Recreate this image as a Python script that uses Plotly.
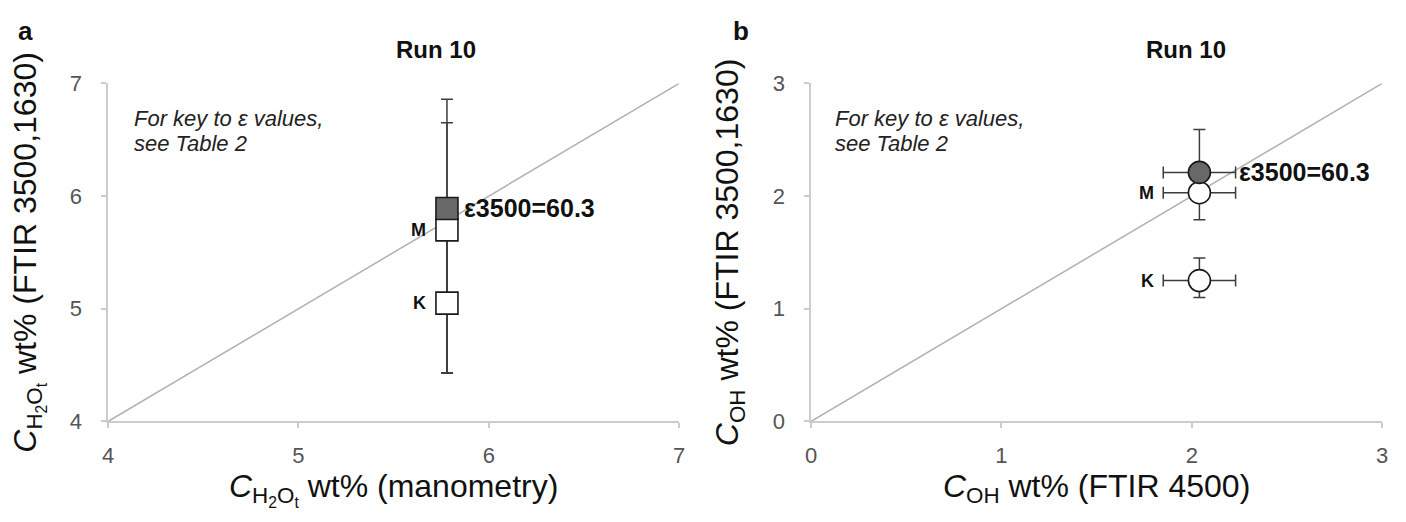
import plotly.graph_objects as go

W, H = 1406, 522
FONT = "Liberation Sans, Arial, sans-serif"

# ---- data panel a (C_H2Ot) ----
a_labels = ["ε3500=60.3", "M", "K"]
a_x = [5.78, 5.78, 5.78]
a_y = [5.89, 5.70, 5.05]
a_err_up = [0.97, 0.95, 0.63]
a_err_dn = [1.46, 1.27, 0.62]
a_fill = ["#686868", "white", "white"]

# ---- data panel b (C_OH) ----
b_labels = ["ε3500=60.3", "M", "K"]
b_x = [2.04, 2.04, 2.04]
b_y = [2.21, 2.03, 1.25]
b_err_up = [0.38, 0.24, 0.20]
b_err_dn = [0.10, 0.24, 0.15]
b_xerr = [0.19, 0.19, 0.19]
b_fill = ["#686868", "white", "white"]

a_ticks = [4, 5, 6, 7]
b_ticks = [0, 1, 2, 3]

fig = go.Figure()

# 1:1 lines
fig.add_trace(go.Scatter(x=[a_ticks[0], a_ticks[-1]], y=[a_ticks[0], a_ticks[-1]], mode="lines",
                         line=dict(color="#b0b0b0", width=1.5), xaxis="x", yaxis="y", hoverinfo="skip"))
fig.add_trace(go.Scatter(x=[b_ticks[0], b_ticks[-1]], y=[b_ticks[0], b_ticks[-1]], mode="lines",
                         line=dict(color="#b0b0b0", width=1.5), xaxis="x2", yaxis="y2", hoverinfo="skip"))

ebcol = "#3c3c3c"
# error bars (drawn under markers)
fig.add_trace(go.Scatter(x=a_x, y=a_y, mode="markers", marker=dict(size=1, color="rgba(0,0,0,0)"),
                         error_y=dict(type="data", symmetric=False, array=a_err_up, arrayminus=a_err_dn,
                                      color=ebcol, thickness=1.5, width=6),
                         xaxis="x", yaxis="y"))
fig.add_trace(go.Scatter(x=b_x, y=b_y, mode="markers", marker=dict(size=1, color="rgba(0,0,0,0)"),
                         error_y=dict(type="data", symmetric=False, array=b_err_up, arrayminus=b_err_dn,
                                      color=ebcol, thickness=1.5, width=6),
                         error_x=dict(type="data", array=b_xerr, color=ebcol, thickness=1.5, width=6),
                         xaxis="x2", yaxis="y2"))

# markers (reverse order so filled is on top)
fig.add_trace(go.Scatter(x=a_x[::-1], y=a_y[::-1], mode="markers",
                         marker=dict(symbol="square", size=22, color=a_fill[::-1],
                                     line=dict(color="#1a1a1a", width=1.6)),
                         xaxis="x", yaxis="y"))
fig.add_trace(go.Scatter(x=b_x[::-1], y=b_y[::-1], mode="markers",
                         marker=dict(symbol="circle", size=22, color=b_fill[::-1],
                                     line=dict(color="#1a1a1a", width=1.6)),
                         xaxis="x2", yaxis="y2"))

ann = []
# point labels
for i, lab in enumerate(a_labels):
    if i == 0:
        ann.append(dict(x=a_x[i], y=a_y[i], xref="x", yref="y", text="<b>%s</b>" % lab, showarrow=False,
                        xanchor="left", xshift=15, font=dict(size=25, color="#111", family=FONT)))
    else:
        ann.append(dict(x=a_x[i], y=a_y[i], xref="x", yref="y", text="<b>%s</b>" % lab, showarrow=False,
                        xanchor="right", xshift=-19, font=dict(size=18, color="#111", family=FONT)))
for i, lab in enumerate(b_labels):
    if i == 0:
        ann.append(dict(x=b_x[i], y=b_y[i], xref="x2", yref="y2", text="<b>%s</b>" % lab, showarrow=False,
                        xanchor="left", xshift=38, font=dict(size=25, color="#111", family=FONT)))
    else:
        ann.append(dict(x=b_x[i], y=b_y[i], xref="x2", yref="y2", text="<b>%s</b>" % lab, showarrow=False,
                        xanchor="right", xshift=-43, font=dict(size=18, color="#111", family=FONT)))

def px(x):
    return x / W

def py(y):
    return 1 - y / H

# panel letters, titles, notes
ann.append(dict(x=px(10), y=py(20), xref="paper", yref="paper", text="<b>a</b>", showarrow=False,
                xanchor="left", yanchor="middle", font=dict(size=26, color="#111", family=FONT)))
ann.append(dict(x=px(731), y=py(20), xref="paper", yref="paper", text="<b>b</b>", showarrow=False,
                xanchor="left", yanchor="middle", font=dict(size=26, color="#111", family=FONT)))
ann.append(dict(x=px(434), y=py(39), xref="paper", yref="paper", text="<b>Run 10</b>", showarrow=False,
                xanchor="center", yanchor="middle", font=dict(size=24, color="#111", family=FONT)))
ann.append(dict(x=px(1190), y=py(39), xref="paper", yref="paper", text="<b>Run 10</b>", showarrow=False,
                xanchor="center", yanchor="middle", font=dict(size=24, color="#111", family=FONT)))
note1 = "<i>For key to ε values,</i>"
note2 = "<i>see Table 2</i>"
for x0 in (127, 834):
    ann.append(dict(x=px(x0), y=py(112), xref="paper", yref="paper", text=note1, showarrow=False, align="left",
                    xanchor="left", yanchor="middle", font=dict(size=22, color="#222", family=FONT)))
    ann.append(dict(x=px(x0), y=py(138), xref="paper", yref="paper", text=note2, showarrow=False, align="left",
                    xanchor="left", yanchor="middle", font=dict(size=22, color="#222", family=FONT)))

axcol = "#cccccc"
tickfont = dict(size=22, color="#555", family=FONT)
titlefont = dict(size=32, color="#111", family=FONT)
common = dict(showline=True, linecolor=axcol, linewidth=1.5, ticks="outside", ticklen=5, tickcolor=axcol,
              tickwidth=1.5, showgrid=False, zeroline=False, tickfont=tickfont)

ydom = [py(430), py(75)]
fig.update_layout(
    width=W, height=H, margin=dict(l=0, r=0, t=0, b=0),
    paper_bgcolor="white", plot_bgcolor="white", showlegend=False,
    xaxis=dict(domain=[px(103), px(679)], range=[4, 7], tickvals=a_ticks, anchor="y", ticklabelstandoff=8,
               title=dict(text="<i>C</i><sub>H<sub>2</sub>O<sub>t</sub></sub> wt% (manometry)", font=titlefont, standoff=4), **common),
    yaxis=dict(domain=ydom, range=[4, 7], tickvals=a_ticks, anchor="x", ticklabelstandoff=15,
               title=dict(text="<i>C</i><sub>H<sub>2</sub>O<sub>t</sub></sub> wt% (FTIR 3500,1630)", font=titlefont, standoff=24), **common),
    xaxis2=dict(domain=[px(812), px(1388)], range=[0, 3], tickvals=b_ticks, anchor="y2", ticklabelstandoff=8,
                title=dict(text="<i>C</i><sub>OH</sub> wt% (FTIR 4500)", font=titlefont, standoff=4), **common),
    yaxis2=dict(domain=ydom, range=[0, 3], tickvals=b_ticks, anchor="x2", ticklabelstandoff=15,
                title=dict(text="<i>C</i><sub>OH</sub> wt% (FTIR 3500,1630)", font=titlefont, standoff=24), **common),
    annotations=ann,
)

fig.write_html("out.html")
